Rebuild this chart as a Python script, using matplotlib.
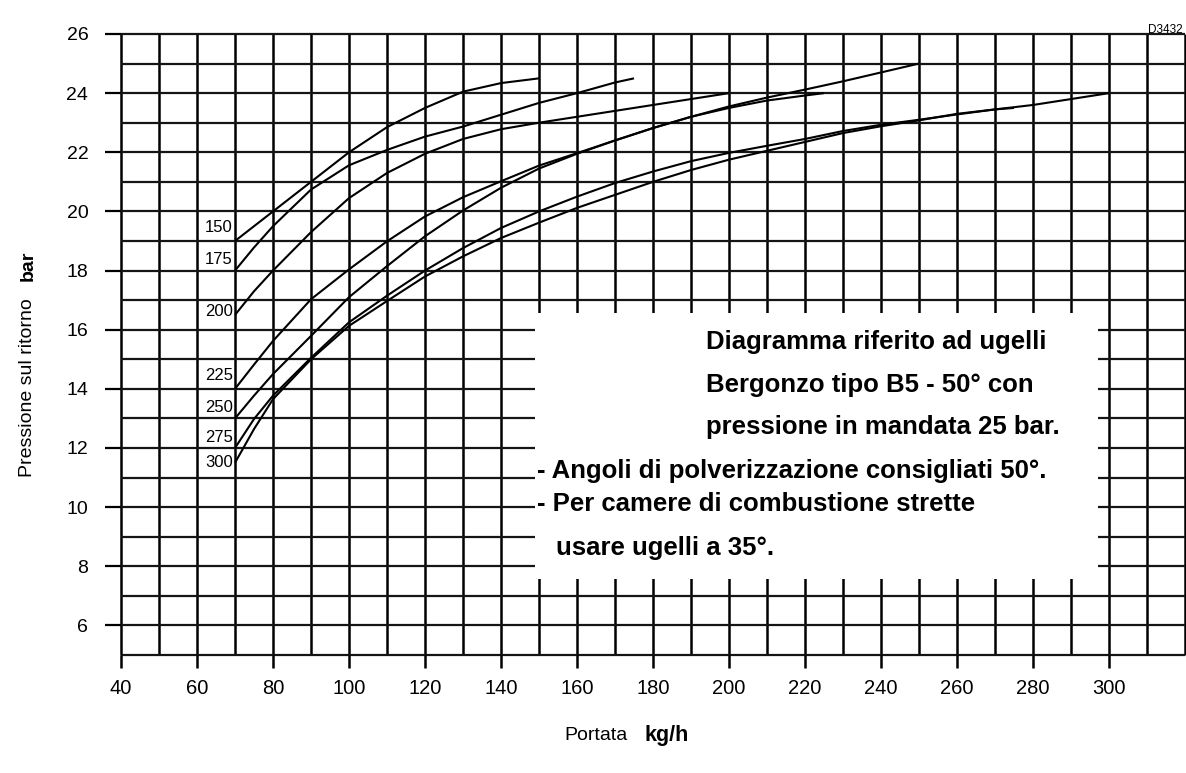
import numpy as np
import matplotlib

matplotlib.use('Agg')
import matplotlib.pyplot as plt
from matplotlib.patches import Rectangle

plt.rcParams['font.family'] = ['Liberation Sans', 'DejaVu Sans']

# nozzle sizes (kg/h) and their curves: flow (kg/h) vs return pressure (bar)
nozzles = ['150', '175', '200', '225', '250', '275', '300']

flow_150 = [70, 75, 80, 90, 100, 110, 120, 130, 140, 150]
pres_150 = [19.0, 19.5, 20.0, 21.0, 22.0, 22.85, 23.5, 24.05, 24.34, 24.5]

flow_175 = [70, 75, 80, 90, 100, 110, 120, 130, 140, 150, 160, 170, 175]
pres_175 = [18.0, 18.78, 19.5, 20.74, 21.56, 22.08, 22.53, 22.87, 23.27, 23.67, 24.0, 24.36, 24.5]

flow_200 = [70, 75, 80, 90, 100, 110, 120, 130, 140, 150, 160, 170, 180, 190, 200]
pres_200 = [16.5, 17.3, 18.0, 19.3, 20.45, 21.3, 21.95, 22.45, 22.78, 23.0, 23.2, 23.4, 23.6, 23.8, 24.0]

flow_225 = [70, 75, 80, 90, 100, 110, 120, 130, 140, 150, 160, 170, 180, 190, 200, 210, 220, 225]
pres_225 = [14.0, 14.82, 15.62, 17.03, 18.04, 18.99, 19.83, 20.48, 21.02, 21.55, 21.97, 22.4, 22.82,
            23.2, 23.5, 23.75, 23.92, 24.0]

flow_250 = [70, 75, 80, 90, 100, 110, 120, 130, 140, 150, 160, 170, 180, 190, 200, 210, 220, 230, 240, 250]
pres_250 = [13.0, 13.77, 14.5, 15.79, 17.1, 18.15, 19.16, 20.03, 20.8, 21.45, 21.95, 22.4, 22.82,
            23.2, 23.55, 23.85, 24.12, 24.4, 24.7, 25.0]

flow_275 = [70, 75, 80, 90, 100, 110, 120, 130, 140, 150, 160, 170, 180, 190, 200, 210, 220, 230, 240,
            250, 260, 270, 275]
pres_275 = [12.0, 12.98, 13.77, 15.05, 16.25, 17.15, 18.0, 18.76, 19.44, 20.0, 20.5, 20.96, 21.35,
            21.7, 21.98, 22.22, 22.45, 22.72, 22.93, 23.1, 23.28, 23.45, 23.5]

flow_300 = [70, 75, 80, 90, 100, 110, 120, 130, 140, 150, 160, 170, 180, 190, 200, 210, 220, 230, 240,
            250, 260, 270, 280, 290, 300]
pres_300 = [11.5, 12.64, 13.65, 15.0, 16.13, 16.97, 17.8, 18.48, 19.1, 19.62, 20.12, 20.56, 21.0,
            21.4, 21.75, 22.05, 22.35, 22.65, 22.88, 23.08, 23.3, 23.45, 23.6, 23.8, 24.0]

flows = [flow_150, flow_175, flow_200, flow_225, flow_250, flow_275, flow_300]
pressures = [pres_150, pres_175, pres_200, pres_225, pres_250, pres_275, pres_300]

x_ticks = list(range(40, 301, 20))
y_ticks = list(range(6, 27, 2))

note_lines = ['Diagramma riferito ad ugelli',
              'Bergonzo tipo B5 - 50\u00b0 con',
              'pressione in mandata 25 bar.',
              '- Angoli di polverizzazione consigliati 50\u00b0.',
              '- Per camere di combustione strette',
              'usare ugelli a 35\u00b0.']

# ---- layout (pixels of the 1186x773 canvas)
W, H = 1186, 773
fig = plt.figure(figsize=(W / 100, H / 100), dpi=100)
ax = fig.add_axes([121 / W, (H - 655) / H, (1185 - 121) / W, (655 - 34) / H])
ax.set_xlim(40, 320)
ax.set_ylim(5, 26)
for s in ax.spines.values():
    s.set_visible(False)

# grid
for xv in range(40, 321, 10):
    ax.plot([xv, xv], [5, 26], color='black', lw=1.8, zorder=1, clip_on=False, solid_capstyle='butt')
for yv in range(5, 27):
    ax.plot([40, 320], [yv, yv], color='#151515', lw=1.6, zorder=1, clip_on=False, solid_capstyle='butt')

ax.set_xticks(x_ticks)
ax.set_yticks(y_ticks)
ax.tick_params(axis='x', length=9.5, width=1.8, pad=8, labelsize=14.5, direction='out')
ax.tick_params(axis='y', length=11.5, width=1.6, pad=12, labelsize=14, direction='out')

# curves
label_dy = [0.47, 0.38, 0.1, 0.45, 0.37, 0.36, 0.0]
for name, fl, pr, dy in zip(nozzles, flows, pressures, label_dy):
    ax.plot(fl, pr, color='black', lw=1.5, zorder=2, solid_capstyle='butt')
    ax.text(fl[0] - 0.6, pr[0] + dy, name, ha='right', va='center', fontsize=12, zorder=2)

# white note box
ax.add_patch(Rectangle((149, 7.58), 297 - 149, 16.55 - 7.58, facecolor='white', edgecolor='none', zorder=3))
note_x = [193.9, 193.9, 193.9, 149.5, 149.5, 154.5]
note_y = [15.34, 13.89, 12.48, 10.99, 9.88, 8.39]
for txt, tx, ty in zip(note_lines, note_x, note_y):
    ax.text(tx, ty, txt, ha='left', va='baseline', fontsize=18.5, fontweight='bold', zorder=4)

# axis titles
fig.text(28 / W, 1 - 388 / H, 'Pressione sul ritorno', rotation=90, ha='center', va='center', fontsize=14)
fig.text(28 / W, 1 - 266 / H, 'bar', rotation=90, ha='center', va='center', fontsize=14, fontweight='bold')
fig.text(596 / W, 1 - 735 / H, 'Portata', ha='center', va='center', fontsize=14)
fig.text(667 / W, 1 - 735 / H, 'kg/h', ha='center', va='center', fontsize=15.5, fontweight='bold')
fig.text(1183 / W, 1 - 30 / H, 'D3432', ha='right', va='center', fontsize=8.5)

fig.savefig('out.png', dpi=100)
